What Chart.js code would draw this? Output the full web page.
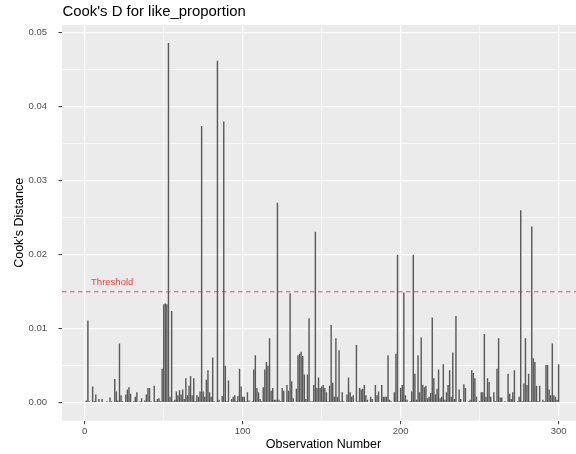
<!DOCTYPE html>
<html>
<head>
<meta charset="utf-8">
<script src="https://cdn.jsdelivr.net/npm/chart.js@4"></script>
<style>
  html, body { margin: 0; padding: 0; background: #fff; }
  canvas { display: block; }
</style>
</head>
<body>
<canvas id="cooksChart" width="576" height="454"></canvas>
<script>
// Cook's distance per observation (1..300)
const cooksD = [
  0.0003, 0.0111, 0.0002, 0.0001, 0.0022, 0.0002, 0.0011, 0.0001, 0.0005, 0.0001,
  0.0005, 0.0001, 0.0001, 0.0002, 0.0001, 0.0007, 0.0002, 0.0001, 0.0032, 0.0015,
  0.0003, 0.0080, 0.0010, 0.0002, 0.0001, 0.0011, 0.0018, 0.0021, 0.0012, 0.0001,
  0.0002, 0.0008, 0.0014, 0.0001, 0.0002, 0.0006, 0.0001, 0.0003, 0.0011, 0.0020,
  0.0020, 0.0002, 0.0001, 0.0023, 0.0002, 0.0005, 0.0006, 0.0002, 0.0046, 0.0133,
  0.0134, 0.0133, 0.0486, 0.0008, 0.0124, 0.0002, 0.0004, 0.0015, 0.0010, 0.0017,
  0.0011, 0.0018, 0.0005, 0.0033, 0.0010, 0.0023, 0.0036, 0.0010, 0.0033, 0.0002,
  0.0010, 0.0008, 0.0015, 0.0374, 0.0015, 0.0008, 0.0031, 0.0044, 0.0014, 0.0008,
  0.0061, 0.0002, 0.0001, 0.0462, 0.0004, 0.0001, 0.0009, 0.0380, 0.0050, 0.0002,
  0.0030, 0.0001, 0.0005, 0.0008, 0.0010, 0.0002, 0.0009, 0.0046, 0.0022, 0.0008,
  0.0008, 0.0002, 0.0014, 0.0003, 0.0001, 0.0002, 0.0045, 0.0064, 0.0020, 0.0014,
  0.0005, 0.0002, 0.0021, 0.0045, 0.0055, 0.0050, 0.0087, 0.0016, 0.0020, 0.0004,
  0.0004, 0.0270, 0.0004, 0.0002, 0.0020, 0.0016, 0.0001, 0.0024, 0.0016, 0.0148,
  0.0029, 0.0006, 0.0001, 0.0019, 0.0064, 0.0066, 0.0069, 0.0063, 0.0038, 0.0005,
  0.0038, 0.0114, 0.0002, 0.0002, 0.0024, 0.0231, 0.0020, 0.0034, 0.0020, 0.0022,
  0.0024, 0.0020, 0.0014, 0.0002, 0.0023, 0.0105, 0.0027, 0.0008, 0.0087, 0.0008,
  0.0071, 0.0002, 0.0014, 0.0002, 0.0001, 0.0011, 0.0034, 0.0014, 0.0008, 0.0010,
  0.0001, 0.0078, 0.0002, 0.0020, 0.0018, 0.0019, 0.0024, 0.0010, 0.0004, 0.0001,
  0.0008, 0.0005, 0.0001, 0.0024, 0.0010, 0.0015, 0.0001, 0.0024, 0.0008, 0.0008,
  0.0008, 0.0064, 0.0004, 0.0002, 0.0001, 0.0014, 0.0066, 0.0200, 0.0002, 0.0020,
  0.0024, 0.0149, 0.0010, 0.0004, 0.0001, 0.0002, 0.0015, 0.0200, 0.0039, 0.0004,
  0.0064, 0.0014, 0.0088, 0.0024, 0.0021, 0.0023, 0.0006, 0.0008, 0.0013, 0.0115,
  0.0033, 0.0011, 0.0019, 0.0045, 0.0006, 0.0008, 0.0052, 0.0004, 0.0014, 0.0024,
  0.0044, 0.0008, 0.0068, 0.0005, 0.0117, 0.0001, 0.0018, 0.0005, 0.0001, 0.0025,
  0.0020, 0.0001, 0.0002, 0.0004, 0.0044, 0.0040, 0.0033, 0.0008, 0.0001, 0.0002,
  0.0014, 0.0014, 0.0093, 0.0008, 0.0033, 0.0028, 0.0008, 0.0001, 0.0014, 0.0002,
  0.0046, 0.0087, 0.0007, 0.0007, 0.0001, 0.0002, 0.0001, 0.0039, 0.0012, 0.0005,
  0.0014, 0.0044, 0.0001, 0.0002, 0.0008, 0.0260, 0.0002, 0.0026, 0.0087, 0.0024,
  0.0039, 0.0002, 0.0238, 0.0060, 0.0055, 0.0023, 0.0002, 0.0023, 0.0001, 0.0004,
  0.0002, 0.0051, 0.0051, 0.0018, 0.0010, 0.0080, 0.0010, 0.0008, 0.0004, 0.0052
];
const observations = cooksD.map((d, i) => i + 1);

const threshold = 0.015;
const xTicks = [0, 50, 100, 150, 200, 250, 300];
const yTicks = [0, 0.005, 0.01, 0.015, 0.02, 0.025, 0.03, 0.035, 0.04, 0.045, 0.05];

const FONT = "'Liberation Sans', Arial, Helvetica, sans-serif";

const isMajorX = v => v % 100 === 0;
const isMajorY = v => Math.round(v * 1000) % 10 === 0;

// grey panel + titles + threshold line
const ggPlugin = {
    id: 'gg',
    beforeDraw(chart) {
        const { ctx, chartArea: a } = chart;
        ctx.save();
        ctx.fillStyle = '#EBEBEB';
        ctx.fillRect(a.left, a.top, a.right - a.left, a.bottom - a.top);
        ctx.restore();
    },
    afterDatasetsDraw(chart) {
        const { ctx, chartArea: a, scales } = chart;
        const y = scales.y.getPixelForValue(threshold);
        ctx.save();
        ctx.beginPath();
        ctx.rect(a.left, a.top, a.right - a.left, a.bottom - a.top);
        ctx.clip();
        ctx.strokeStyle = 'rgba(215, 45, 45, 0.85)';
        ctx.lineWidth = 1.1;
        ctx.setLineDash([4.5, 3.5]);
        ctx.beginPath();
        ctx.moveTo(a.left, y);
        ctx.lineTo(a.right, y);
        ctx.stroke();
        ctx.restore();

        ctx.save();
        ctx.fillStyle = '#E8453C';
        ctx.font = '9.5px ' + FONT;
        ctx.textAlign = 'left';
        ctx.textBaseline = 'alphabetic';
        ctx.fillText('Threshold', scales.x.getPixelForValue(4), scales.y.getPixelForValue(0.0159));
        ctx.restore();
    },
    afterDraw(chart) {
        const { ctx, chartArea: a } = chart;
        ctx.save();
        ctx.fillStyle = '#000';
        ctx.font = '14.9px ' + FONT;
        ctx.textAlign = 'left';
        ctx.textBaseline = 'alphabetic';
        ctx.fillText("Cook's D for like_proportion", a.left + 0.5, 15.5);

        ctx.font = '12.5px ' + FONT;
        ctx.textAlign = 'center';
        ctx.fillText('Observation Number', 323.5, 448);

        ctx.translate(23, (a.top + a.bottom) / 2);
        ctx.rotate(-Math.PI / 2);
        ctx.fillText("Cook's Distance", 0, 0);
        ctx.restore();
    }
};

const ctx = document.getElementById('cooksChart').getContext('2d');
const cooksChart = new Chart(ctx, {
    type: 'bar',
    data: {
        datasets: [{
            data: observations.map((o, i) => ({ x: o, y: cooksD[i] })),
            backgroundColor: '#595959',
            borderWidth: 0,
            barPercentage: 0.9,
            categoryPercentage: 1
        }]
    },
    options: {
        responsive: false,
        animation: false,
        layout: { padding: { left: 0, top: 25, right: 0, bottom: 0 } },
        plugins: {
            legend: { display: false },
            tooltip: { enabled: false }
        },
        scales: {
            x: {
                type: 'linear',
                min: -14.4,
                max: 311,
                offset: false,
                afterBuildTicks: scale => { scale.ticks = xTicks.map(v => ({ value: v })); },
                afterFit: scale => { scale.height = 33.3; },
                border: { display: false },
                grid: {
                    offset: false,
                    color: '#FFFFFF',
                    lineWidth: c => (c.tick && isMajorX(c.tick.value)) ? 1.2 : 0.6,
                    tickColor: c => (c.tick && isMajorX(c.tick.value)) ? '#333333' : 'rgba(0,0,0,0)',
                    tickLength: 3.5,
                    tickWidth: 1
                },
                ticks: {
                    autoSkip: false,
                    maxRotation: 0,
                    padding: 1.5,
                    color: '#4D4D4D',
                    font: { family: FONT, size: 9.5 },
                    callback: v => isMajorX(v) ? String(v) : ''
                }
            },
            y: {
                min: -0.00243,
                max: 0.05103,
                afterBuildTicks: scale => { scale.ticks = yTicks.map(v => ({ value: v })); },
                afterFit: scale => { scale.width = 62; },
                border: { display: false },
                grid: {
                    color: '#FFFFFF',
                    lineWidth: c => (c.tick && isMajorY(c.tick.value)) ? 1.2 : 0.6,
                    tickColor: c => (c.tick && isMajorY(c.tick.value)) ? '#333333' : 'rgba(0,0,0,0)',
                    tickLength: 3.5,
                    tickWidth: 1
                },
                ticks: {
                    autoSkip: false,
                    padding: 11.5,
                    color: '#4D4D4D',
                    font: { family: FONT, size: 9.5 },
                    callback: v => isMajorY(v) ? v.toFixed(2) : ''
                }
            }
        }
    },
    plugins: [ggPlugin]
});
</script>
</body>
</html>
